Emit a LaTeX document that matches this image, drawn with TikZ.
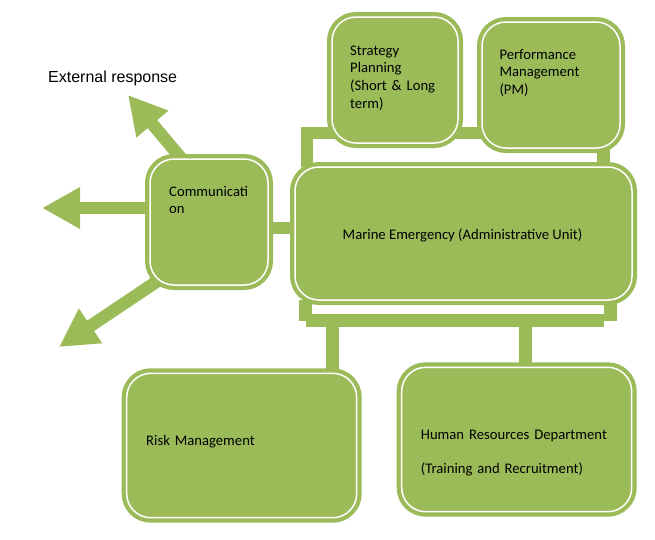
\documentclass[tikz,border=0pt]{standalone}
\usepackage{fontspec}
\setmainfont{Carlito}
\newfontfamily\arialfont{Liberation Sans}
\usetikzlibrary{arrows.meta}
\definecolor{leafgreen}{HTML}{9BBB59}
\pgfdeclarelayer{background}
\pgfsetlayers{background,main}

\tikzset{
  unitbox/.style={fill=leafgreen, draw=white, line width=1.5pt, rounded corners=24pt,
    inner sep=0pt, outer sep=0pt, preaction={draw=leafgreen, line width=10pt}},
  bar/.style={draw=leafgreen, line width=12.5pt},
  fat arrow/.style={bar, -{Triangle[length=38pt,width=39pt]}},
  unittext/.style={font=\fontsize{14.67}{17.9}\selectfont, align=left, inner sep=0pt, anchor=base west},
}

\begin{document}
\begin{tikzpicture}[x=1pt,y=-1pt]
  \useasboundingbox (0,0) rectangle (655,539);

  % Boxen
  \node[unitbox, minimum width=126pt, minimum height=126pt] (strat) at (395,80) {};
  \node[unitbox, minimum width=138pt, minimum height=126pt] (perf) at (551,85) {};
  \node[unitbox, minimum width=118pt, minimum height=126pt] (comm) at (209,222) {};
  \node[unitbox, minimum width=337pt, minimum height=133pt] (marine) at (463.5,233.5) {};
  \node[unitbox, minimum width=230pt, minimum height=144.4pt] (risk) at (241.7,445.5) {};
  \node[unitbox, minimum width=230pt, minimum height=144.4pt] (hr) at (516.7,439.5) {};

  % Punkte fuer Leitungen und Pfeile
  \coordinate (upL) at (307,133);
  \coordinate (upR) at (603.5,133);
  \coordinate (link) at (281,228);
  \coordinate (busL) at (306,320.5);
  \coordinate (busR) at (603.5,320.5);
  \coordinate (stubL) at (305.5,321);
  \coordinate (stubR) at (610.5,321);
  \coordinate (riskTap) at (332.5,320.5);
  \coordinate (hrTap) at (525.7,320.5);
  \coordinate (tipW) at (42,208);
  \coordinate (srcNW) at (186,164);
  \coordinate (tipNW) at (128,95);
  \coordinate (srcSW) at (165,276);
  \coordinate (tipSW) at (59,347);

  \begin{pgfonlayer}{background}
    % Verbindungen
    \draw[bar] (upL |- marine.north) -- (upL) -- (upR) -- (upR |- marine.north);
    \draw[bar] (link -| comm.east) -- (link -| marine.west);
    \draw[bar] (stubL |- marine.south) -- (stubL);
    \draw[bar] (stubR |- marine.south) -- (stubR);
    \draw[bar, line width=12.7pt] (busL) -- (busR);
    \draw[bar] (riskTap) -- (riskTap |- risk.north);
    \draw[bar] (hrTap) -- (hrTap |- hr.north);

    % Pfeile nach aussen
    \draw[fat arrow] (tipW -| comm.west) -- (tipW);
    \draw[fat arrow] (srcNW) -- (tipNW);
    \draw[fat arrow] (srcSW) -- (tipSW);
  \end{pgfonlayer}

  % Texte
  \node[unittext, text width=105pt] (stratT) at (350,55) {Strategy\\Planning\\(Short \& Long\\term)};
  \node[unittext, text width=110pt] (perfT) at (499.3,59) {Performance\\Management\\(PM)};
  \node[unittext, text width=95pt] (commT) at (169,196) {Communicati\\on};
  \node[font=\fontsize{14.67}{17.9}\selectfont, inner sep=0pt, anchor=base] (marineT) at (462.5,239) {Marine Emergency (Administrative Unit)};
  \node[unittext, text width=180pt] (riskT) at (146,445.7) {Risk Management};
  \node[unittext, text width=200pt] (hrT) at (420.7,439.3) {Human Resources Department\\[16pt](Training and Recruitment)};
  \node[font=\arialfont\fontsize{16}{19}\selectfont, inner sep=0pt, anchor=base west] (extT) at (48,82) {External response};
\end{tikzpicture}
\end{document}
